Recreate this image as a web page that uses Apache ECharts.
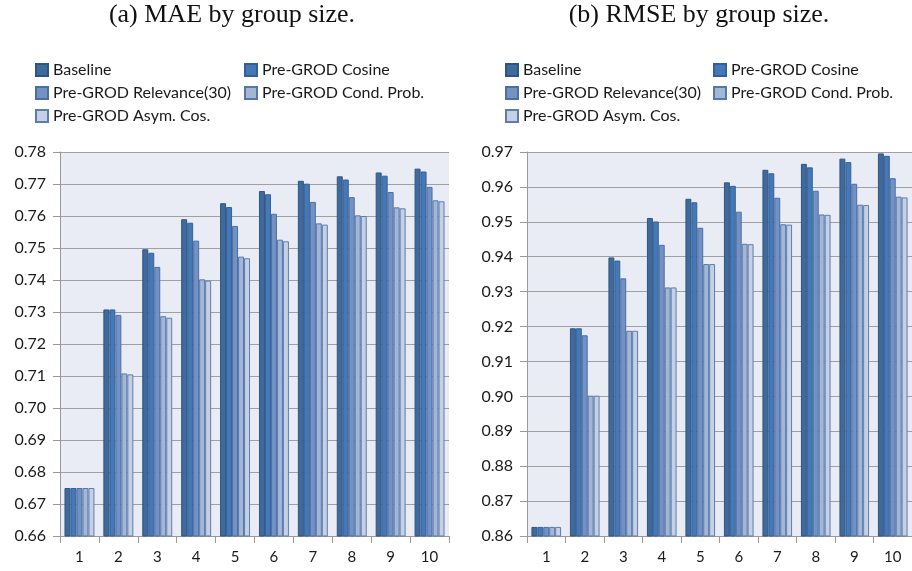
<!DOCTYPE html>
<html>
<head>
<meta charset="utf-8">
<script src="https://cdn.jsdelivr.net/npm/echarts@6/dist/echarts.min.js"></script>
<style>html,body{margin:0;padding:0;background:#fff;}#c{width:912px;height:571px;}</style>
</head>
<body>
<div id="c"></div>
<script>
const categories = ['1','2','3','4','5','6','7','8','9','10'];
const seriesNames = ['Baseline','Pre-GROD Cosine','Pre-GROD Relevance(30)','Pre-GROD Cond. Prob.','Pre-GROD Asym. Cos.'];
const maeBaseline  = [0.675,0.7308,0.7496,0.7590,0.7640,0.7678,0.7710,0.7724,0.7736,0.7748];
const maeCosine    = [0.675,0.7308,0.7485,0.7579,0.7628,0.7668,0.7701,0.7714,0.7726,0.7739];
const maeRelevance = [0.675,0.7291,0.7441,0.7523,0.7569,0.7607,0.7644,0.7659,0.7675,0.7691];
const maeCondProb  = [0.675,0.7108,0.7287,0.7402,0.7473,0.7526,0.7577,0.7602,0.7627,0.7649];
const maeAsymCos   = [0.675,0.7105,0.7282,0.7398,0.7468,0.7521,0.7573,0.7600,0.7624,0.7646];
const rmseBaseline  = [0.8626,0.9195,0.9398,0.9511,0.9566,0.9613,0.9649,0.9666,0.9681,0.9696];
const rmseCosine    = [0.8626,0.9195,0.9389,0.9501,0.9556,0.9603,0.9639,0.9656,0.9671,0.9689];
const rmseRelevance = [0.8626,0.9175,0.9338,0.9434,0.9483,0.9529,0.9569,0.9589,0.9609,0.9625];
const rmseCondProb  = [0.8626,0.9002,0.9188,0.9312,0.9379,0.9437,0.9493,0.9521,0.9549,0.9572];
const rmseAsymCos   = [0.8626,0.9002,0.9188,0.9312,0.9379,0.9436,0.9492,0.9520,0.9548,0.9570];
const maeTicks = {min:0.66, max:0.78, interval:0.01};
const rmseTicks = {min:0.86, max:0.97, interval:0.01};
const titleA = '(a) MAE by group size.';
const titleB = '(b) RMSE by group size.';

const colors = ['#3F6A9C','#4678B5','#7392C3','#A3B6D6','#C5D0E4'];
const borders = ['#2F5584','#34609A','#4B6FA3','#5578AA','#5C7EAD'];
const maeData = [maeBaseline,maeCosine,maeRelevance,maeCondProb,maeAsymCos];
const rmseData = [rmseBaseline,rmseCosine,rmseRelevance,rmseCondProb,rmseAsymCos];

const chart = echarts.init(document.getElementById('c'), null, {renderer:'canvas'});
const labelFont = {fontFamily:'Lato', fontSize:15, color:'#1a1a1a'};

function xAxis(gi){
  return {type:'category', gridIndex:gi, data:categories,
    axisLine:{show:true, lineStyle:{color:'#9a9a9a', width:1}},
    axisTick:{show:true, length:7, lineStyle:{color:'#9a9a9a'}},
    axisLabel:Object.assign({margin:14}, labelFont),
    splitLine:{show:false}};
}
function yAxis(gi, t){
  return {type:'value', gridIndex:gi, min:t.min, max:t.max, interval:t.interval,
    axisLine:{show:true, lineStyle:{color:'#9a9a9a', width:1}},
    axisTick:{show:true, length:7, lineStyle:{color:'#9a9a9a'}},
    axisLabel:Object.assign({margin:14, formatter:v=>v.toFixed(2)}, labelFont, {fontSize:16}),
    splitLine:{show:true, lineStyle:{color:'#a0a0a0', width:1}}};
}
const series = [];
[maeData, rmseData].forEach((set, gi)=>{
  set.forEach((d, i)=>{
    series.push({type:'bar', name:seriesNames[i], xAxisIndex:gi, yAxisIndex:gi, data:d,
      barGap:'0%', barCategoryGap:'23%',
      itemStyle:{color:colors[i], borderColor:borders[i], borderWidth:1},
      emphasis:{disabled:true}, animation:false});
  });
});
const legendPos = [
  [[35,62],[244,62],[35,85],[244,85],[35,108]],
  [[505,62],[713,62],[505,85],[713,85],[505,108]]
];
const legends = [];
legendPos.forEach(ch=>{
  ch.forEach((p,i)=>{
    legends.push({data:[seriesNames[i]], left:p[0], top:p[1], itemWidth:12, itemHeight:12,
      itemGap:0, padding:0, icon:'rect', selectedMode:false,
      textStyle:{fontFamily:'Lato', fontSize:16, color:'#1a1a1a', padding:[0,0,0,0]}});
  });
});
chart.setOption({
  animation:false,
  legend:legends,
  grid:[
    {left:60, top:152, width:389, height:384, show:true, backgroundColor:'#E9ECF4', borderWidth:0},
    {left:527, top:152, width:389, height:384, show:true, backgroundColor:'#E9ECF4', borderWidth:0}
  ],
  xAxis:[xAxis(0), xAxis(1)],
  yAxis:[yAxis(0, maeTicks), yAxis(1, rmseTicks)],
  series:series,
  graphic:[
    {type:'text', x:232, y:15, style:{text:titleA, font:'26px "Liberation Serif"', fill:'#111', textAlign:'center', textVerticalAlign:'middle'}},
    {type:'text', x:699, y:15, style:{text:titleB, font:'26px "Liberation Serif"', fill:'#111', textAlign:'center', textVerticalAlign:'middle'}}
  ]
});
</script>
</body>
</html>
